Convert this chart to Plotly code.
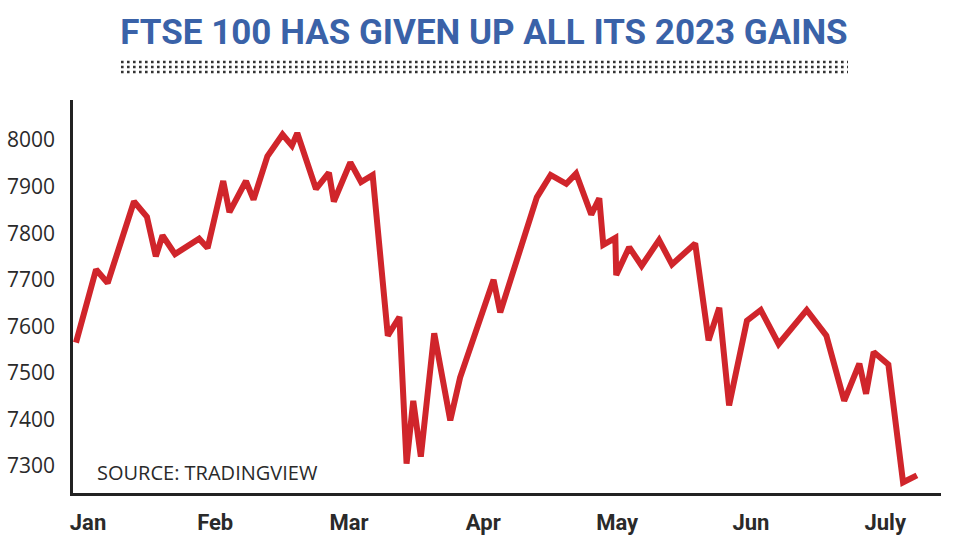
import plotly.graph_objects as go

# Day of year 2023 (Jan 1 = 0) and FTSE 100 closing level
day = [2.0, 6.5, 9.1, 15.0, 17.9, 19.9, 21.4, 24.2, 29.6, 31.5,
       35.0, 36.4, 40.1, 41.8, 44.9, 48.3, 50.4, 51.6, 55.8, 58.7,
       59.8, 63.5, 65.9, 68.5, 71.9, 74.5, 76.1, 77.6, 79.3, 82.3,
       85.9, 88.1, 95.6, 97.1, 105.3, 108.4, 111.9, 114.1, 117.5, 119.3,
       120.2, 122.9, 123.1, 126.0, 128.8, 132.7, 135.6, 140.8, 143.8, 146.2,
       148.4, 152.4, 155.5, 159.5, 165.8, 170.2, 174.2, 177.6, 179.1, 180.8,
       184.1, 187.4, 190.5]
ftse = [7565, 7722, 7693, 7868, 7835, 7750, 7795, 7755, 7788, 7768,
        7912, 7845, 7912, 7872, 7965, 8012, 7988, 8015, 7895, 7930,
        7868, 7952, 7910, 7925, 7580, 7620, 7305, 7440, 7320, 7585,
        7398, 7490, 7700, 7630, 7877, 7925, 7906, 7928, 7840, 7875,
        7775, 7790, 7710, 7770, 7730, 7785, 7733, 7778, 7570, 7640,
        7430, 7612, 7635, 7562, 7635, 7580, 7440, 7520, 7455, 7545,
        7518, 7265, 7280]

month_labels = ["Jan", "Feb", "Mar", "Apr", "May", "Jun", "July"]
month_pos = [4.7, 33.2, 63.2, 93.3, 123.3, 153.3, 183.4]
y_ticks = [7300, 7400, 7500, 7600, 7700, 7800, 7900, 8000]

TITLE = "FTSE 100 HAS GIVEN UP ALL ITS 2023 GAINS"
SOURCE = "SOURCE: TRADINGVIEW"

fig = go.Figure()
fig.add_trace(go.Scatter(
    x=day, y=ftse, mode="lines",
    line=dict(color="#d0252b", width=6, shape="linear"),
    hoverinfo="skip", showlegend=False,
))

fig.update_layout(
    width=959, height=550,
    margin=dict(l=73, r=18, t=100, b=57),
    paper_bgcolor="white", plot_bgcolor="white",
    title=dict(
        text=f"<b>{TITLE}</b>",
        font=dict(family="Roboto", size=35, color="#3a62a8"),
        x=0.5047, xanchor="center", xref="container",
        y=1 - 32 / 550, yanchor="middle", yref="container",
    ),
    xaxis=dict(
        range=[1.33, 195.9], showgrid=False, zeroline=False, automargin=False,
        showline=True, linecolor="#222222", linewidth=2.5,
        tickmode="array", tickvals=month_pos, ticktext=[f"<b>{m}</b>" for m in month_labels],
        ticks="", ticklabelstandoff=8,
        tickfont=dict(family="Roboto", size=22, color="#2a2a2a"),
    ),
    yaxis=dict(
        range=[7242, 8086], showgrid=False, zeroline=False, automargin=False,
        showline=True, linecolor="#222222", linewidth=2.5,
        tickmode="array", tickvals=y_ticks,
        ticks="", ticklabelstandoff=11,
        tickfont=dict(family="Open Sans", size=21, color="#2a2a2a"),
    ),
    annotations=[dict(
        text=SOURCE, xref="paper", yref="paper",
        x=(95 - 73) / 868, y=(493 - 472) / 393, xanchor="left", yanchor="middle",
        showarrow=False, font=dict(family="Open Sans", size=20, color="#2a2a2a"),
    )],
)

# dotted rule under the title (three rows of dots)
for ypx in (62, 67, 72):
    fig.add_shape(
        type="line", xref="paper", yref="paper",
        x0=(121 - 73) / 868, x1=(848 - 73) / 868,
        y0=(493 - ypx) / 393, y1=(493 - ypx) / 393,
        line=dict(color="#333333", width=2.6, dash="2.6px,3.4px"),
    )

fig.write_html("out.html", config={"displayModeBar": False},
               post_script="document.body.style.margin='0px';")
